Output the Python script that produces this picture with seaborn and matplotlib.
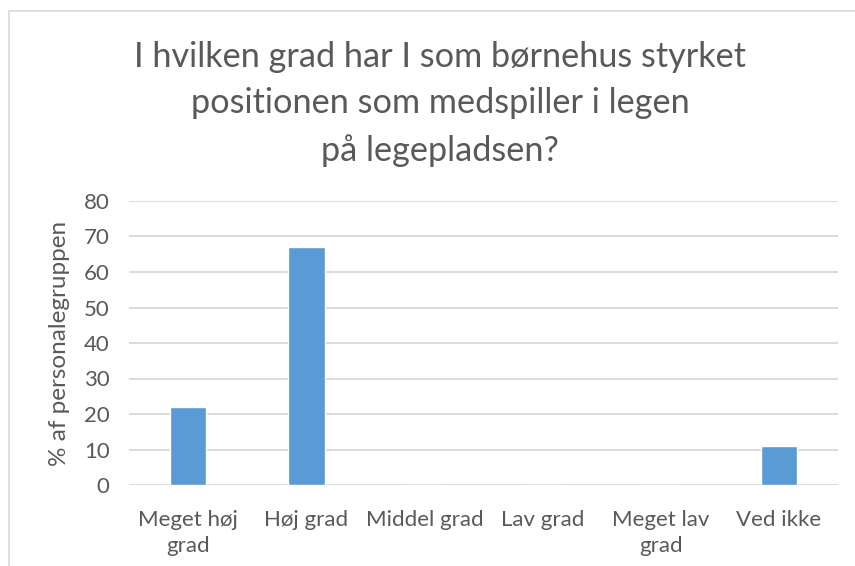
import matplotlib
matplotlib.use("Agg")
import matplotlib.pyplot as plt
import seaborn as sns
import pandas as pd
from matplotlib.lines import Line2D

categories = ["Meget høj\ngrad", "Høj grad", "Middel grad", "Lav grad", "Meget lav\ngrad", "Ved ikke"]
values = [22, 67, 0, 0, 0, 11]
yticks = [0, 10, 20, 30, 40, 50, 60, 70, 80]
title = "I hvilken grad har I som børnehus styrket\npositionen som medspiller i legen\npå legepladsen?"
ylabel = "% af personalegruppen"

sns.set_theme(style="white")
plt.rcParams['font.family'] = ['Lato', 'DejaVu Sans']
txt = "#595959"

df = pd.DataFrame({"cat": categories, "val": values})
fig = plt.figure(figsize=(8.55, 5.66), dpi=100)
ax = fig.add_axes([129/855, 1-485/566, (838-129)/855, (485-201)/566])
sns.barplot(data=df, x="cat", y="val", color="#5B9BD5", width=0.31, saturation=1, ax=ax, zorder=3)
ax.set_ylim(0, 80)
ax.set_yticks(yticks)
ax.set_xlim(-0.5, len(categories)-0.5)
ax.yaxis.grid(True, color="#D9D9D9", linewidth=1.3, zorder=0)
ax.xaxis.grid(False)
for s in ax.spines.values():
    s.set_visible(False)
ax.tick_params(axis="y", length=0, labelsize=16, colors=txt, pad=14)
ax.tick_params(axis="x", length=0, labelsize=16, colors=txt, pad=18)
ax.set_xlabel("")
ax.set_ylabel(ylabel, fontsize=17.5, color=txt, labelpad=10)
for lbl in ax.get_xticklabels():
    lbl.set_linespacing(1.35)

fig.text(440/855, 1-104/566, title, ha="center", va="center", fontsize=24.7, color=txt, linespacing=1.55)

fig.add_artist(Line2D([9/855, 9/855], [0, 1-11/566], color="#D9D9D9", lw=1.2, transform=fig.transFigure))
fig.add_artist(Line2D([9/855, 1], [1-11/566, 1-11/566], color="#D9D9D9", lw=1.2, transform=fig.transFigure))

fig.savefig("out.png", dpi=100)
